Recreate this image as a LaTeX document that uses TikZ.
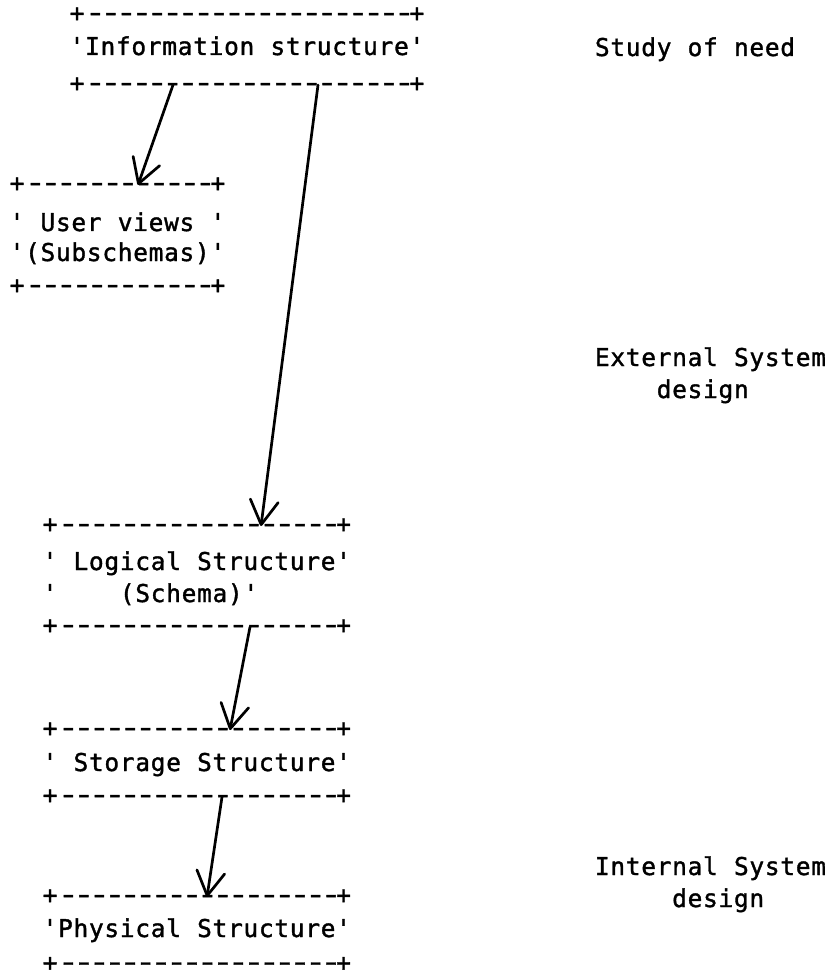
\documentclass[tikz,border=0pt]{standalone}
\usepackage{fontspec}
\usepackage{graphicx}
\setmonofont{DejaVu Sans Mono}[FakeBold=1.4]
\usetikzlibrary{arrows.meta,calc}
\ExplSyntaxOn
\dim_new:N \l_tw_pitch_dim
\dim_set:Nn \l_tw_pitch_dim {15.45pt}
\cs_new_protected:Npn \tw_char:n #1
  {
    \str_case:nnF {#1}
      {
        {_} { \hbox_to_wd:nn { \l_tw_pitch_dim } { \hfil } }
        {-} { \hbox_to_wd:nn { \l_tw_pitch_dim } { \hfil \scalebox{1.45}[1.1]{#1} \hfil } }
      }
      { \hbox_to_wd:nn { \l_tw_pitch_dim } { \hfil #1 \hfil } }
  }
\NewDocumentCommand \tw { m }
  { \str_map_function:nN {#1} \tw_char:n }
\ExplSyntaxOff
\tikzset{
  tw/.style={inner sep=0pt, outer sep=0pt, anchor=base west,
    font=\ttfamily\fontsize{24.5}{24.5}\selectfont},
  handarrow/.style={line width=2.7pt, line cap=round, line join=round,
    -{Straight Barb[length=24pt,width=28pt,round]}}
}
\begin{document}
\begin{tikzpicture}[x=1pt,y=-1pt]
\useasboundingbox (0,0) rectangle (837,976);
\fill[white] (0,0) rectangle (837,976);
% Information structure
\node[tw] (infotop) at (69.3,21.5) {\tw{+---------------------+}};
\node[tw] (infotxt) at (69.3,55) {\tw{'Information_structure'}};
\node[tw] (infobot) at (69.3,91.5) {\tw{+---------------------+}};
\node[tw] (study) at (594.6,56) {\tw{Study_of_need}};
% User views
\node[tw] (uvtop) at (9.3,191.5) {\tw{+------------+}};
\node[tw] (uvt1) at (9.3,231) {\tw{'_User_views_'}};
\node[tw] (uvt2) at (9.3,261) {\tw{'(Subschemas)'}};
\node[tw] (uvbot) at (9.3,293.5) {\tw{+------------+}};
% External system design
\node[tw] (ext1) at (594.6,366) {\tw{External_System}};
\node[tw] (ext2) at (594.6,398) {\tw{____design}};
% Logical structure
\node[tw] (lgtop) at (42.3,532.5) {\tw{+------------------+}};
\node[tw] (lgt1) at (42.3,570) {\tw{'_Logical_Structure'}};
\node[tw] (lgt2) at (42.3,602) {\tw{'____(Schema)'}};
\node[tw] (lgbot) at (42.3,633.5) {\tw{+------------------+}};
% Storage structure
\node[tw] (sttop) at (42.3,736.5) {\tw{+------------------+}};
\node[tw] (stt1) at (42.3,771) {\tw{'_Storage_Structure'}};
\node[tw] (stbot) at (42.3,803.5) {\tw{+------------------+}};
% Physical structure
\node[tw] (phtop) at (42.3,903.5) {\tw{+------------------+}};
\node[tw] (pht1) at (42.3,937) {\tw{'Physical_Structure'}};
\node[tw] (phbot) at (42.3,971) {\tw{+------------------+}};
% Internal system design
\node[tw] (int1) at (594.6,875) {\tw{Internal_System}};
\node[tw] (int2) at (594.6,907) {\tw{_____design}};
% arrow end points on the border lines
\coordinate (a1s) at ($(infobot.base west)+(103.7,-6.5)$);
\coordinate (a1e) at ($(uvtop.base west)+(128.7,-6.5)$);
\coordinate (a2s) at ($(infobot.base west)+(248.7,-6.5)$);
\coordinate (a2e) at ($(lgtop.base west)+(218.7,-6.5)$);
\coordinate (a3s) at ($(lgbot.base west)+(207.7,-6.5)$);
\coordinate (a3e) at ($(sttop.base west)+(187.7,-6.5)$);
\coordinate (a4s) at ($(stbot.base west)+(179.7,-6.5)$);
\coordinate (a4e) at ($(phtop.base west)+(164.7,-6.5)$);
\draw[handarrow] (a1s) -- (a1e);
\draw[handarrow] (a2s) -- (a2e);
\draw[handarrow] (a3s) -- (a3e);
\draw[handarrow] (a4s) -- (a4e);
\end{tikzpicture}
\end{document}
